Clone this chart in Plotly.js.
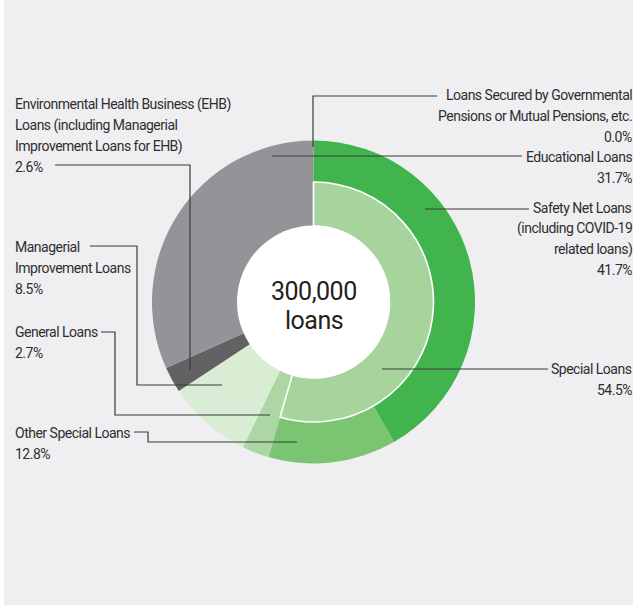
<!DOCTYPE html>
<html>
<head>
<meta charset="utf-8">
<script src="https://cdn.plot.ly/plotly-3.0.1.min.js"></script>
<style>
html,body{margin:0;padding:0;background:#ffffff;}
#chart{width:633px;height:605px;}
.annotation-text{letter-spacing:-0.5px;}
</style>
</head>
<body>
<div id="chart"></div>
<script>
// ---- data ----
const innerNames = ["Special Loans", "General Loans", "Managerial Improvement Loans",
  "Environmental Health Business (EHB) Loans (including Managerial Improvement Loans for EHB)",
  "Educational Loans", "Loans Secured by Governmental Pensions or Mutual Pensions, etc."];
const innerValues = [54.5, 2.7, 8.5, 2.6, 31.7, 0.0];
const specialSubNames = ["Safety Net Loans (including COVID-19 related loans)", "Other Special Loans"];
const specialSubValues = [41.7, 12.8];
const centerLines = ["300,000", "loans"];

// ---- styles ----
const innerColors = ["#a6d49c", "#acd6a3", "#d9edd5", "#626264", "#929497", "#929497"];
const specialSubColors = ["#41b44d", "#7bc572"];
const FONT = 'Roboto, "Liberation Sans Narrow", "DejaVu Sans Condensed", sans-serif';
const TXT = "#2e2e2e";
const W = 633, H = 605;
const px = x => x / W, py = y => 1 - y / H;
const cx = 313.5, cy = 302, R = 161.5, Rin = 120, Rhole = 76;
const dom = r => ({x: [px(cx - r), px(cx + r)], y: [py(cy + r), py(cy - r)]});

// outer ring: special sub-categories then the other inner categories (full width)
const outerNames = specialSubNames.concat(innerNames.slice(1));
const outerValues = specialSubValues.concat(innerValues.slice(1));
const outerColors = specialSubColors.concat(innerColors.slice(1));

const traces = [
  {type: "pie", values: outerValues, labels: outerNames, sort: false, direction: "clockwise",
   rotation: 0, hole: Rhole / R, textinfo: "none", hoverinfo: "label+percent", showlegend: false,
   marker: {colors: outerColors, line: {width: 0}}, domain: dom(R)},
  {type: "pie", values: innerValues, labels: innerNames.map(n => "in: " + n), sort: false,
   direction: "clockwise", rotation: 0, hole: Rhole / Rin, textinfo: "none", hoverinfo: "label+percent",
   showlegend: false,
   marker: {colors: innerColors.map((c, i) => i === 0 ? c : "rgba(0,0,0,0)"),
            line: {color: innerColors.map((c, i) => i === 0 ? "#ffffff" : "rgba(0,0,0,0)"),
                   width: innerColors.map((c, i) => i === 0 ? 1.6 : 0)}},
   domain: dom(Rin)},
  {type: "pie", values: [1], labels: ["center"], textinfo: "none", hoverinfo: "skip", showlegend: false,
   marker: {colors: ["#ffffff"], line: {width: 0}}, domain: dom(Rhole + 0.5)}
];

const pct = v => v.toFixed(1) + "%";
// label blocks: text lines, anchor side, x, first-line y
const blocks = [
  {lines: ["Loans Secured by Governmental", "Pensions or Mutual Pensions, etc.", pct(innerValues[5])], side: "right", x: 634, y: 95},
  {lines: ["Educational Loans", pct(innerValues[4])], side: "right", x: 634, y: 157},
  {lines: ["Safety Net Loans", "(including COVID-19", "related loans)", pct(specialSubValues[0])], side: "right", x: 634, y: 208},
  {lines: ["Special Loans", pct(innerValues[0])], side: "right", x: 634, y: 369},
  {lines: ["Environmental Health Business (EHB)", "Loans (including Managerial", "Improvement Loans for EHB)", pct(innerValues[3])], side: "left", x: 13, y: 105},
  {lines: ["Managerial", "Improvement Loans", pct(innerValues[2])], side: "left", x: 13, y: 247},
  {lines: ["General Loans", pct(innerValues[1])], side: "left", x: 13, y: 332},
  {lines: ["Other Special Loans", pct(specialSubValues[1])], side: "left", x: 13, y: 433}
];
const LH = 20.8;
const annotations = [];
blocks.forEach(b => {
  b.lines.forEach((t, i) => {
    annotations.push({xref: "paper", yref: "paper", x: px(b.x), y: py(b.y + i * LH),
      xanchor: b.side, yanchor: "middle", text: t, showarrow: false,
      font: {family: FONT, size: 14, color: TXT}});
  });
});
annotations.push({xref: "paper", yref: "paper", x: px(cx), y: py(291), xanchor: "center", yanchor: "middle",
  text: centerLines[0], showarrow: false, font: {family: FONT, size: 25, color: "#231f20"}});
annotations.push({xref: "paper", yref: "paper", x: px(cx), y: py(320), xanchor: "center", yanchor: "middle",
  text: centerLines[1], showarrow: false, font: {family: FONT, size: 25, color: "#231f20"}});

// leader lines (pixel polylines)
const leaders = [
  [[437, 96], [313, 96], [313, 147]],
  [[522, 156], [272, 156]],
  [[529, 209], [425, 209]],
  [[548, 369], [382, 369]],
  [[55, 165], [190, 165], [190, 370]],
  [[90, 246], [137, 246], [137, 385], [222, 385]],
  [[101, 332], [115, 332], [115, 415], [270, 415]],
  [[134, 432], [148, 432], [148, 442], [297, 442]]
];
const shapes = [
  {type: "rect", xref: "paper", yref: "paper", x0: 0, x1: px(4), y0: 0, y1: 1,
   fillcolor: "#ffffff", line: {width: 0}, layer: "below"}
];
leaders.forEach(pts => {
  const d = pts.map((p, i) => (i ? "L" : "M") + px(p[0]).toFixed(5) + "," + py(p[1]).toFixed(5)).join(" ");
  shapes.push({type: "path", xref: "paper", yref: "paper", path: d, line: {color: "#3a3a3a", width: 1.2}, layer: "above"});
});

const layout = {
  width: W, height: H, margin: {l: 0, r: 0, t: 0, b: 0},
  paper_bgcolor: "#efeff1", plot_bgcolor: "#efeff1",
  showlegend: false, annotations: annotations, shapes: shapes
};
Plotly.newPlot("chart", traces, layout, {displayModeBar: false, staticPlot: true});
</script>
</body>
</html>
